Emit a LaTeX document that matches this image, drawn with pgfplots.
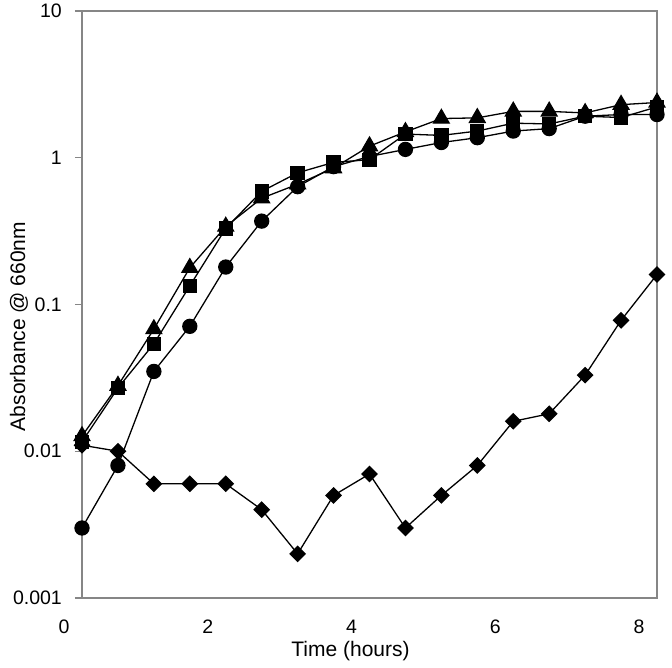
\documentclass[border=0pt]{standalone}
\usepackage{fontspec}
\setmainfont{Liberation Sans}
\usepackage{pgfplots}
\pgfplotsset{compat=1.18}
\definecolor{framegray}{RGB}{134,134,134}
\begin{document}
\begin{tikzpicture}
\begin{axis}[
  scale only axis, width=575pt, height=587pt,
  ymode=log, xmin=0.25, xmax=8.25, ymin=0.001, ymax=10,
  clip=false,
  axis line style={framegray, line width=1.3pt},
  xtick={2,4,6,8},
  ytick={0.001,0.01,0.1,1,10},
  yticklabels={0.001,0.01,0.1,1,10},
  yminorticks=false, xminorticks=false,
  tick pos=left,
  tick align=outside, major tick length=7pt,
  tick style={framegray, line width=1.1pt},
  major x tick style={draw=none},
  /pgf/number format/assume math mode=true,
  xticklabel style={font=\fontsize{19.5}{20}\selectfont, anchor=north, inner sep=0pt, yshift=-15pt},
  yticklabel style={font=\fontsize{19.5}{20}\selectfont, anchor=east, inner sep=0pt, xshift=-13pt},
  xlabel={Time (hours)},
  ylabel={Absorbance @ 660nm},
  xlabel style={font=\fontsize{21}{22}\selectfont, at={(rel axis cs:0.467,-0.1005)}, anchor=base},
  ylabel style={font=\fontsize{21}{22}\selectfont, at={(rel axis cs:-0.0991,0.4625)}, anchor=base},
]
\addplot[black, line width=1.3pt, mark=square*, mark size=5.3pt, mark options={solid, fill=black, rotate=45}] coordinates {
(0.25,0.011) (0.75,0.010) (1.25,0.006) (1.75,0.006) (2.25,0.006) (2.75,0.004)
(3.25,0.002) (3.75,0.005) (4.25,0.007) (4.75,0.003) (5.25,0.005) (5.75,0.008)
(6.25,0.016) (6.75,0.018) (7.25,0.033) (7.75,0.078) (8.25,0.16)};
\addplot[black, line width=1.3pt, mark=*, mark size=7pt, mark options={solid, fill=black}] coordinates {
(0.25,0.003) (0.75,0.008) (1.25,0.035) (1.75,0.071) (2.25,0.18) (2.75,0.37)
(3.25,0.635) (3.75,0.87) (4.25,1.02) (4.75,1.14) (5.25,1.27) (5.75,1.37)
(6.25,1.52) (6.75,1.58) (7.25,1.92) (7.75,1.97) (8.25,1.97)};
\addplot[black, line width=1.3pt, mark=square*, mark size=6.5pt, mark options={solid, fill=black}] coordinates {
(0.25,0.0116) (0.75,0.027) (1.25,0.054) (1.75,0.134) (2.25,0.33) (2.75,0.59)
(3.25,0.79) (3.75,0.93) (4.25,0.97) (4.75,1.45) (5.25,1.42) (5.75,1.52)
(6.25,1.72) (6.75,1.70) (7.25,1.92) (7.75,1.88) (8.25,2.22)};
\addplot[black, line width=1.3pt, mark=triangle*, mark size=9pt, mark options={solid, fill=black}] coordinates {
(0.25,0.0127) (0.75,0.028) (1.25,0.068) (1.75,0.178) (2.25,0.34) (2.75,0.53)
(3.25,0.66) (3.75,0.85) (4.25,1.2) (4.75,1.5) (5.25,1.85) (5.75,1.87)
(6.25,2.07) (6.75,2.07) (7.25,2.02) (7.75,2.3) (8.25,2.38)};
\node[font=\fontsize{19.5}{20}\selectfont, anchor=north, inner sep=0pt, yshift=-22pt] at (axis cs:0,0.001) {0};
\coordinate (sw) at (rel axis cs:0,0);
\coordinate (ne) at (rel axis cs:1,1);
\end{axis}
\path ([shift={(-82pt,-69pt)}]sw) rectangle ([shift={(15pt,11pt)}]ne);
\end{tikzpicture}
\end{document}
